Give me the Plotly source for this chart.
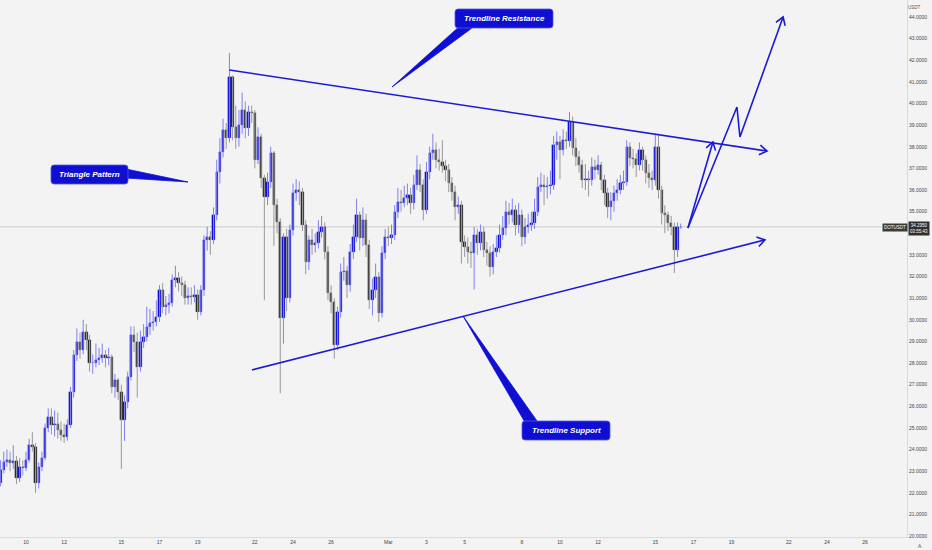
import math
from datetime import datetime, timedelta
import plotly.graph_objects as go

# ---------------- data (DOTUSDT, 4h candles) ----------------
first_candle = "2021-02-08 16:00"
candle_hours = 4

opens = [22.45, 23.05, 23.42, 23.51, 23.38, 23.45, 22.68, 23.19, 23.15, 23.51,
         24.21, 24.12, 22.45, 23.19, 23.61, 24.99, 25.50, 25.13, 25.18, 24.90,
         24.67, 24.58, 25.13, 26.66, 28.37, 28.97, 28.60, 29.43, 29.06, 28.00,
         28.02, 28.14, 28.23, 28.37, 28.23, 28.28, 26.89, 27.20, 26.66, 25.36,
         26.20, 27.35, 29.29, 28.97, 27.82, 28.97, 29.20, 29.66, 29.85, 29.90,
         30.13, 31.38, 30.59, 30.68, 30.77, 31.84, 31.93, 31.70, 31.61, 31.01,
         31.10, 31.05, 31.14, 30.36, 31.38, 33.69, 33.83, 33.69, 34.84, 36.83,
         37.76, 38.77, 38.40, 41.23, 38.91, 38.40, 39.01, 39.70, 38.87, 39.61,
         39.56, 37.39, 38.45, 36.55, 35.68, 36.37, 37.71, 35.31, 34.52, 30.08,
         33.83, 31.01, 34.15, 35.86, 36.00, 35.91, 34.38, 32.67, 33.69, 33.46,
         33.55, 34.06, 34.29, 33.13, 31.24, 30.82, 28.83, 30.36, 32.21, 32.25,
         31.61, 33.13, 33.83, 34.84, 33.78, 34.61, 33.46, 30.91, 31.38, 31.98,
         30.31, 33.09, 33.83, 33.80, 33.92, 34.98, 35.45, 35.40, 35.63, 35.77,
         35.40, 36.23, 36.92, 36.23, 35.08, 36.83, 37.71, 37.85, 37.39, 37.29,
         37.11, 36.92, 36.32, 35.91, 35.21, 35.31, 33.60, 33.36, 33.13, 33.09,
         33.92, 33.55, 34.06, 33.23, 33.09, 32.44, 33.13, 33.32, 33.92, 34.24,
         34.98, 34.84, 35.08, 34.38, 34.84, 33.83, 34.29, 34.38, 34.47, 34.98,
         36.14, 36.23, 36.14, 36.18, 36.23, 38.08, 38.22, 37.85, 38.31, 38.28,
         39.14, 37.94, 37.53, 37.16, 36.46, 36.50, 36.46, 37.06, 36.92, 37.16,
         36.46, 35.86, 35.21, 35.50, 35.86, 36.00, 36.32, 36.37, 37.99, 37.48,
         37.45, 37.16, 37.85, 37.39, 36.79, 36.55, 36.46, 37.99, 36.00, 34.94,
         34.84, 34.47, 34.29, 33.23, 34.29]

closes = [23.05, 23.42, 23.51, 23.38, 23.45, 22.68, 23.19, 23.15, 23.51, 24.21,
          24.12, 22.45, 23.19, 23.61, 24.99, 25.50, 25.13, 25.18, 24.90, 24.67,
          24.58, 25.13, 26.66, 28.37, 28.97, 28.60, 29.43, 29.06, 28.00, 28.02,
          28.14, 28.23, 28.37, 28.23, 28.28, 26.89, 27.20, 26.66, 25.36, 26.20,
          27.35, 29.29, 28.97, 27.82, 28.97, 29.20, 29.66, 29.85, 29.90, 30.13,
          31.38, 30.59, 30.68, 30.77, 31.84, 31.93, 31.70, 31.61, 31.01, 31.10,
          31.05, 31.14, 30.36, 31.38, 33.69, 33.83, 33.69, 34.84, 36.83, 37.76,
          38.77, 38.40, 41.23, 38.91, 38.40, 39.01, 39.70, 38.87, 39.61, 39.56,
          37.39, 38.45, 36.55, 35.68, 36.37, 37.71, 35.31, 34.52, 30.08, 33.83,
          31.01, 34.15, 35.86, 36.00, 35.91, 34.38, 32.67, 33.69, 33.46, 33.55,
          34.06, 34.29, 33.13, 31.24, 30.82, 28.83, 30.36, 32.21, 32.25, 31.61,
          33.13, 33.83, 34.84, 33.78, 34.61, 33.46, 30.91, 31.38, 31.98, 30.31,
          33.09, 33.83, 33.80, 33.92, 34.98, 35.45, 35.40, 35.63, 35.77, 35.40,
          36.23, 36.92, 36.23, 35.08, 36.83, 37.71, 37.85, 37.39, 37.29, 37.11,
          36.92, 36.32, 35.91, 35.21, 35.31, 33.60, 33.36, 33.13, 33.09, 33.92,
          33.55, 34.06, 33.23, 33.09, 32.44, 33.13, 33.32, 33.92, 34.24, 34.98,
          34.84, 35.08, 34.38, 34.84, 33.83, 34.29, 34.38, 34.47, 34.98, 36.14,
          36.23, 36.14, 36.18, 36.23, 38.08, 38.22, 37.85, 38.31, 38.28, 39.14,
          37.94, 37.53, 37.16, 36.46, 36.50, 36.46, 37.06, 36.92, 37.16, 36.46,
          35.86, 35.21, 35.50, 35.86, 36.00, 36.32, 36.37, 37.99, 37.48, 37.45,
          37.16, 37.85, 37.39, 36.79, 36.55, 36.46, 37.99, 36.00, 34.94, 34.84,
          34.47, 34.29, 33.23, 34.29, 34.295]

highs = [23.5, 23.9, 24.0, 23.9, 24.2, 23.7, 23.6, 23.5, 23.9, 24.5,
         24.8, 24.3, 23.4, 23.9, 25.2, 25.9, 25.9, 25.8, 25.7, 25.3,
         25.2, 25.4, 26.9, 28.6, 29.6, 29.4, 30.0, 29.8, 29.3, 28.4,
         28.9, 28.7, 28.9, 28.6, 28.7, 28.4, 27.5, 27.3, 27.0, 26.5,
         27.6, 29.7, 29.7, 29.4, 29.5, 29.8, 30.6, 30.5, 30.4, 30.9,
         31.6, 31.7, 31.1, 31.2, 32.1, 32.5, 32.2, 32.0, 31.8, 31.5,
         31.5, 31.6, 31.4, 31.6, 33.9, 34.3, 34.1, 35.2, 37.4, 38.4,
         39.3, 39.1, 42.34, 41.3, 39.9, 39.7, 40.5, 40.1, 39.9, 39.9,
         39.7, 38.9, 38.6, 36.7, 36.8, 38.0, 37.8, 35.6, 34.7, 34.0,
         34.2, 34.4, 36.3, 36.5, 36.4, 36.1, 34.6, 33.9, 34.2, 34.0,
         34.6, 34.8, 34.5, 33.4, 31.6, 31.0, 30.6, 32.6, 32.9, 32.5,
         33.5, 34.4, 35.6, 35.0, 35.2, 34.9, 33.7, 31.9, 32.6, 32.2,
         33.4, 34.2, 34.3, 34.4, 35.3, 36.1, 36.0, 36.2, 36.3, 36.1,
         36.7, 37.6, 37.2, 36.5, 37.3, 38.0, 38.6, 38.2, 37.9, 38.3,
         37.4, 37.2, 36.6, 36.2, 35.7, 35.5, 33.9, 33.8, 33.6, 34.3,
         34.2, 34.4, 34.3, 33.6, 33.4, 33.5, 33.9, 34.4, 34.8, 35.5,
         35.4, 35.6, 35.3, 35.4, 35.1, 34.7, 34.9, 35.0, 35.6, 36.6,
         36.8, 36.7, 36.6, 36.9, 38.5, 38.7, 38.5, 38.8, 38.7, 39.6,
         39.4, 38.4, 37.8, 37.4, 37.2, 36.9, 37.5, 37.4, 37.6, 37.3,
         36.7, 36.1, 35.9, 36.2, 36.5, 36.7, 36.9, 38.3, 38.2, 37.9,
         37.7, 38.2, 38.0, 37.6, 37.2, 36.9, 38.6, 38.6, 36.2, 35.3,
         35.0, 34.8, 34.5, 34.5, 34.45]

lows = [22.3, 22.9, 23.2, 23.0, 23.1, 22.4, 22.5, 22.8, 23.0, 23.4,
        23.9, 22.0, 22.2, 23.0, 23.5, 24.8, 24.7, 24.6, 24.5, 24.4,
        24.3, 24.4, 25.0, 26.4, 28.1, 28.2, 28.4, 28.6, 27.6, 27.5,
        27.8, 27.9, 28.0, 27.8, 27.9, 26.6, 26.4, 26.3, 23.1, 24.4,
        25.9, 27.2, 28.5, 26.4, 27.6, 28.7, 29.0, 29.3, 29.5, 29.7,
        29.9, 30.3, 30.2, 30.3, 30.6, 31.5, 31.3, 31.1, 30.7, 30.7,
        30.7, 30.8, 30.0, 30.2, 31.1, 33.2, 33.0, 33.5, 34.6, 36.3,
        37.5, 37.9, 38.2, 38.3, 37.9, 38.0, 38.6, 38.4, 38.5, 39.1,
        37.0, 37.2, 36.1, 30.9, 35.3, 36.1, 33.4, 34.0, 26.6, 28.9,
        30.4, 30.8, 33.9, 35.5, 35.3, 34.1, 32.1, 32.3, 33.0, 33.1,
        33.3, 33.8, 32.8, 30.9, 30.3, 28.2, 28.6, 30.1, 31.8, 31.0,
        31.3, 32.8, 33.6, 33.2, 33.4, 32.9, 30.5, 30.2, 31.0, 29.9,
        30.1, 32.8, 33.4, 33.5, 33.7, 34.7, 35.0, 35.2, 35.3, 34.9,
        35.1, 36.0, 35.9, 34.6, 34.9, 36.5, 37.4, 37.0, 36.9, 36.8,
        36.4, 35.9, 35.5, 34.6, 34.9, 32.6, 32.9, 32.6, 32.4, 31.4,
        33.0, 33.2, 32.9, 32.5, 32.0, 32.1, 32.9, 33.1, 33.7, 33.9,
        34.4, 34.5, 33.9, 34.0, 33.4, 33.5, 34.0, 34.1, 34.2, 34.8,
        35.9, 35.3, 35.6, 35.8, 36.0, 37.4, 36.5, 37.6, 37.9, 38.0,
        37.6, 37.1, 36.8, 36.1, 36.0, 35.7, 36.2, 36.5, 36.7, 36.0,
        35.3, 34.7, 34.6, 35.0, 35.5, 35.8, 36.0, 36.2, 37.1, 37.0,
        36.6, 36.9, 36.9, 36.3, 36.1, 36.0, 36.2, 35.6, 34.4, 34.0,
        34.1, 33.9, 32.16, 32.9, 34.2]

last_price = 34.295

# axis ticks
tick_dates = ["2021-02-10", "2021-02-12", "2021-02-15", "2021-02-17", "2021-02-19",
              "2021-02-22", "2021-02-24", "2021-02-26", "2021-03-01", "2021-03-03",
              "2021-03-05", "2021-03-08", "2021-03-10", "2021-03-12", "2021-03-15",
              "2021-03-17", "2021-03-19", "2021-03-22", "2021-03-24", "2021-03-26"]
tick_labels = ["10", "12", "15", "17", "19", "22", "24", "26", "Mar", "3",
               "5", "8", "10", "12", "15", "17", "19", "22", "24", "26"]
# 34.0000 is hidden behind the last-price tag in the reference
price_ticks = [20, 21, 22, 23, 24, 25, 26, 27, 28, 29, 30, 31, 32, 33,
               35, 36, 37, 38, 39, 40, 41, 42, 43, 44]

# drawings (time, price anchors)
resistance_times = ["2021-02-20 16:00", "2021-03-20 20:40"]
resistance_prices = [41.55, 37.80]
support_times = ["2021-02-21 20:20", "2021-03-20 18:00"]
support_prices = [27.68, 33.69]
projection1_times = ["2021-03-16 17:00", "2021-03-18 00:30"]
projection1_prices = [34.24, 38.22]
projection2_times = ["2021-03-16 17:00", "2021-03-19 06:45", "2021-03-19 10:30", "2021-03-21 16:50"]
projection2_prices = [34.24, 39.84, 38.45, 44.0]

# ---------------- styling ----------------
BG = "#f3f3f3"
UP_BODY = "#0e0ee0"
DN_BODY = "#2a2a2a"
UP_WICK = "#8080ef"
DN_WICK = "#999999"
LINE_BLUE = "#1b1bd6"
BOX_BLUE = "#0f0fd4"
FONT = "Liberation Sans, Arial"

X_START = datetime(2021, 2, 8, 15, 17)
X_END = datetime(2021, 3, 28, 4, 45)
Y_LO, Y_HI = 19.954, 44.786
PW, PH = 907, 537

t0 = datetime.fromisoformat(first_candle)
times = [t0 + timedelta(hours=candle_hours * i) for i in range(len(closes))]
up_idx = [i for i in range(len(closes)) if closes[i] >= opens[i]]
dn_idx = [i for i in range(len(closes)) if closes[i] < opens[i]]

fig = go.Figure()


def wick_xy(idx):
    xs, ys = [], []
    for i in idx:
        xs += [times[i], times[i], None]
        ys += [lows[i], highs[i], None]
    return xs, ys


for idx, col in ((up_idx, UP_WICK), (dn_idx, DN_WICK)):
    xs, ys = wick_xy(idx)
    fig.add_trace(go.Scatter(x=xs, y=ys, mode="lines", line=dict(color=col, width=1),
                             hoverinfo="skip", showlegend=False))

for idx, col in ((up_idx, UP_BODY), (dn_idx, DN_BODY)):
    fig.add_trace(go.Bar(
        x=[times[i] for i in idx],
        y=[abs(closes[i] - opens[i]) for i in idx],
        base=[min(opens[i], closes[i]) for i in idx],
        width=10.4e6,
        marker=dict(color=col, line=dict(color=col, width=0.3)),
        showlegend=False, hoverinfo="skip"))

for xs, ys in ((resistance_times, resistance_prices), (support_times, support_prices),
               (projection1_times, projection1_prices), (projection2_times, projection2_prices)):
    fig.add_trace(go.Scatter(x=xs, y=ys, mode="lines", line=dict(color=LINE_BLUE, width=1.6),
                             hoverinfo="skip", showlegend=False))


def to_px(t, p):
    t = datetime.fromisoformat(t)
    return ((t - X_START) / (X_END - X_START) * PW, (Y_HI - p) / (Y_HI - Y_LO) * PH)


def paper(x, y):
    return x / PW, 1 - y / PH


shapes = []


def chevron(a, b, size=9, ang=33):
    (x0, y0), (x1, y1) = a, b
    L = math.hypot(x1 - x0, y1 - y0)
    ux, uy = (x1 - x0) / L, (y1 - y0) / L
    pts = []
    for s in (1, -1):
        r = math.radians(ang * s)
        rx = ux * math.cos(r) - uy * math.sin(r)
        ry = ux * math.sin(r) + uy * math.cos(r)
        pts.append(paper(x1 - size * rx, y1 - size * ry))
    tip = paper(x1, y1)
    path = f"M {pts[0][0]},{pts[0][1]} L {tip[0]},{tip[1]} L {pts[1][0]},{pts[1][1]}"
    shapes.append(dict(type="path", path=path, xref="paper", yref="paper",
                       line=dict(color=LINE_BLUE, width=1.6)))


for xs, ys in ((resistance_times, resistance_prices), (support_times, support_prices),
               (projection1_times, projection1_prices), (projection2_times, projection2_prices)):
    chevron(to_px(xs[-2], ys[-2]), to_px(xs[-1], ys[-1]))

# current price line
shapes.append(dict(type="line", xref="paper", yref="y", x0=0, x1=0.972, y0=last_price, y1=last_price,
                   line=dict(color="#cdcdcd", width=1), layer="below"))


def poly(pts):
    pp = [paper(x, y) for x, y in pts]
    return "M " + " L ".join(f"{x},{y}" for x, y in pp) + " Z"


def rounded_box(x0, y0, x1, y1, r=3):
    P = lambda x, y: "{},{}".format(*paper(x, y))
    return (f"M {P(x0 + r, y0)} L {P(x1 - r, y0)} Q {P(x1, y0)} {P(x1, y0 + r)} "
            f"L {P(x1, y1 - r)} Q {P(x1, y1)} {P(x1 - r, y1)} L {P(x0 + r, y1)} "
            f"Q {P(x0, y1)} {P(x0, y1 - r)} L {P(x0, y0 + r)} Q {P(x0, y0)} {P(x0 + r, y0)} Z")


callouts = [
    ("Trendline Resistance", (455, 9, 553, 28), [(461, 25), (472, 28), (392, 87)]),
    ("Triangle Pattern", (51, 165, 128, 184), [(126, 169), (126, 178), (188, 182)]),
    ("Trendline Support", (522, 421, 610, 440), [(526, 424), (537, 421), (463, 316)]),
]
annotations = []
for text, (bx0, by0, bx1, by1), tail in callouts:
    shapes.append(dict(type="path", path=poly(tail), xref="paper", yref="paper",
                       fillcolor=BOX_BLUE, line=dict(color=BOX_BLUE, width=0.8)))
    shapes.append(dict(type="path", path=rounded_box(bx0, by0, bx1, by1), xref="paper", yref="paper",
                       fillcolor=BOX_BLUE, line=dict(color="#5555ee", width=0.8)))
    cx, cy = paper((bx0 + bx1) / 2, (by0 + by1) / 2)
    annotations.append(dict(x=cx, y=cy, xref="paper", yref="paper", showarrow=False,
                            xanchor="center", yanchor="middle",
                            text=f"<b><i>{text}</i></b>",
                            font=dict(family=FONT, size=8, color="white")))


def tag(px, py, text, size, color, bg=None, xanchor="center"):
    ax_, ay_ = paper(px, py)
    d = dict(x=ax_, y=ay_, xref="paper", yref="paper", showarrow=False, text=text,
             xanchor=xanchor, yanchor="middle", font=dict(size=size, color=color, family=FONT))
    if bg:
        d.update(bgcolor=bg, borderpad=1)
    annotations.append(d)


tag(895, 227, "DOTUSDT", 4.5, "white", "#3a3a3a")
tag(918.5, 229, f"{last_price:.4f}<br>03:55:43", 4.5, "white", "#2f2f2f")
tag(915, 7, "USDT", 4.5, "#555")
tag(920, 546, "A", 5, "#555")

fig.update_layout(
    width=932, height=550,
    margin=dict(l=0, r=25, t=0, b=13, autoexpand=False),
    paper_bgcolor=BG, plot_bgcolor=BG,
    barmode="overlay", bargap=0,
    showlegend=False,
    shapes=shapes, annotations=annotations,
    xaxis=dict(type="date", range=[X_START, X_END], tickvals=tick_dates, ticktext=tick_labels,
               showgrid=False, zeroline=False, showline=True, linecolor="#dadada", linewidth=1,
               ticks="", tickfont=dict(size=5, color="#444", family=FONT),
               rangeslider=dict(visible=False), fixedrange=True),
    yaxis=dict(range=[Y_LO, Y_HI], side="right", tickvals=price_ticks, tickformat=".4f",
               showgrid=False, zeroline=False, showline=True, linecolor="#dadada", linewidth=1,
               ticks="", tickfont=dict(size=5, color="#444", family=FONT),
               fixedrange=True),
)

fig.write_html("out.html",
               config={"displayModeBar": False},
               post_script="document.body.style.margin='0';document.body.style.overflow='hidden';")
